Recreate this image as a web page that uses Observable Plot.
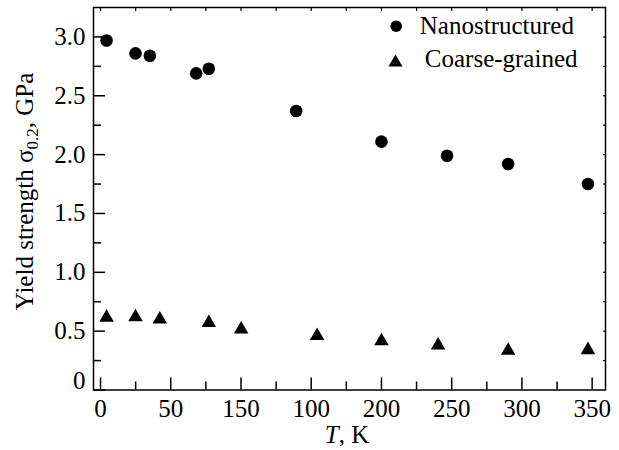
<!DOCTYPE html>
<html><head><meta charset="utf-8">
<script src="https://cdn.jsdelivr.net/npm/d3@7"></script>
<script src="https://cdn.jsdelivr.net/npm/@observablehq/plot@0.6"></script>
<style>
html,body{margin:0;padding:0;background:#fff;}
#chart{width:619px;height:450px;}
</style>
</head><body><div id="chart"></div>
<script>
const seriesNames = ["Nanostructured", "Coarse-grained"];
const tempNano = [4.3, 24.9, 35.1, 68.1, 77.1, 139.3, 200, 246.7, 290.2, 347];
const yieldNano = [2.97, 2.86, 2.84, 2.69, 2.73, 2.37, 2.11, 1.99, 1.92, 1.75];
const tempCoarse = [4.3, 24.9, 42.2, 77.1, 100.1, 154.2, 200, 240.3, 290.2, 347];
const yieldCoarse = [0.615, 0.62, 0.60, 0.57, 0.515, 0.46, 0.415, 0.38, 0.335, 0.34];

const xTickValues = [0, 50, 100, 150, 200, 250, 300, 350];
const xTickLabels = ["0", "50", "150", "100", "200", "250", "300", "350"];
const xMinorTicks = [25, 75, 125, 175, 225, 275, 325];
const xTopTicks = [0, 25, 50, 75, 100, 125, 150, 175, 200, 225, 250, 275, 300, 325, 350];
const yTickValues = [0, 0.5, 1.0, 1.5, 2.0, 2.5, 3.0];
const yTickLabels = ["0", "0.5", "1.0", "1.5", "2.0", "2.5", "3.0"];
const yMinorTicks = [0.25, 0.75, 1.25, 1.75, 2.25, 2.75];
const yRightTicks = [0.25, 0.5, 0.75, 1.0, 1.25, 1.5, 1.75, 2.0, 2.25, 2.5, 2.75, 3.0];
const xTitle = ["T", ", K"];
const yTitle = ["Yield strength σ", "0.2", ", GPa"];

const nano = tempNano.map((t, i) => ({T: t, s: yieldNano[i]}));
const coarse = tempCoarse.map((t, i) => ({T: t, s: yieldCoarse[i]}));
const xLabelData = xTickValues.map((v, i) => ({v, label: xTickLabels[i]}));
const yLabelData = yTickValues.map((v, i) => ({v, label: yTickLabels[i]}));
const FONT = "'Liberation Serif', 'Times New Roman', serif";

const svg = Plot.plot({
  width: 619,
  height: 450,
  marginLeft: 93,
  marginRight: 14,
  marginTop: 7,
  marginBottom: 60.5,
  style: {fontFamily: FONT, fontSize: "25px", color: "black", background: "white"},
  x: {domain: [-5, 359.5]},
  y: {domain: [0, 3.25]},
  marks: [
    Plot.frame({stroke: "black", strokeWidth: 1.5}),
    Plot.axisX(xTickValues, {anchor: "bottom", tickSize: -12, fill: "none", strokeWidth: 1.5, label: null}),
    Plot.axisX(xMinorTicks, {anchor: "bottom", tickSize: -8, fill: "none", strokeWidth: 1.5, label: null}),
    Plot.axisX(xTopTicks, {anchor: "top", tickSize: -3, fill: "none", strokeWidth: 1.2, label: null}),
    Plot.axisY(yTickValues, {anchor: "left", tickSize: -12, fill: "none", strokeWidth: 1.5, label: null}),
    Plot.axisY(yMinorTicks, {anchor: "left", tickSize: -8, fill: "none", strokeWidth: 1.5, label: null}),
    Plot.axisY(yRightTicks, {anchor: "right", tickSize: -3, fill: "none", strokeWidth: 1.2, label: null}),
    Plot.text(xLabelData, {x: "v", text: "label", frameAnchor: "bottom", lineAnchor: "top", dy: 9, fontSize: 25, fill: "black"}),
    Plot.text(yLabelData.slice(1), {y: "v", text: "label", frameAnchor: "left", textAnchor: "end", dx: -8, fontSize: 25, fill: "black"}),
    Plot.text(yLabelData.slice(0, 1), {y: "v", text: "label", frameAnchor: "left", textAnchor: "end", dx: -8, dy: -9, fontSize: 25, fill: "black"}),
    Plot.dot(nano, {x: "T", y: "s", r: 6.3, symbol: "circle", fill: "black"}),
    Plot.dot(coarse, {x: "T", y: "s", r: 5.4, symbol: "triangle", fill: "black"}),
    Plot.dot(seriesNames.slice(0, 1), {frameAnchor: "top-right", dx: -209.3, dy: 18.7, r: 5.8, symbol: "circle", fill: "black"}),
    Plot.dot(seriesNames.slice(1, 2), {frameAnchor: "top-right", dx: -210, dy: 55, r: 5.2, symbol: "triangle", fill: "black"}),
    Plot.text(seriesNames.slice(0, 1), {text: d => d, frameAnchor: "top-right", textAnchor: "start", lineAnchor: "bottom", dx: -185.7, dy: 26.3, fontSize: 25, fill: "black"}),
    Plot.text(seriesNames.slice(1, 2), {text: d => d, frameAnchor: "top-right", textAnchor: "start", lineAnchor: "bottom", dx: -180.7, dy: 59.7, fontSize: 25, fill: "black"})
  ]
});

const s = d3.select(svg);
const xt = s.append("text")
  .attr("x", 347).attr("y", 443)
  .attr("text-anchor", "middle")
  .attr("font-family", FONT).attr("font-size", 25).attr("fill", "black");
xt.append("tspan").attr("font-style", "italic").text(xTitle[0]);
xt.append("tspan").text(xTitle[1]);

const yt = s.append("text")
  .attr("transform", "translate(33,191.5) rotate(-90)")
  .attr("text-anchor", "middle")
  .attr("font-family", FONT).attr("font-size", 25).attr("fill", "black");
yt.append("tspan").text(yTitle[0]);
yt.append("tspan").attr("font-size", 17).attr("dy", 5).text(yTitle[1]);
yt.append("tspan").attr("dy", -5).text(yTitle[2]);

document.getElementById("chart").appendChild(svg);
</script>
</body></html>
